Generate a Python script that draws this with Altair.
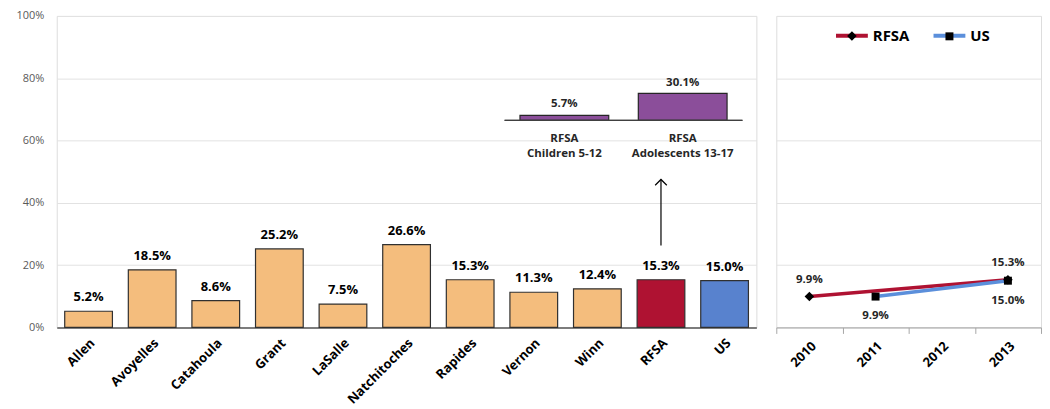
import altair as alt
import pandas as pd

FONT = "Open Sans"

# ---------------- data ----------------
parishes = ["Allen", "Avoyelles", "Catahoula", "Grant", "LaSalle", "Natchitoches",
            "Rapides", "Vernon", "Winn", "RFSA", "US"]
rates = [5.2, 18.5, 8.6, 25.2, 7.5, 26.6, 15.3, 11.3, 12.4, 15.3, 15.0]
groups = ["Parish"] * 9 + ["RFSA", "US"]

inset_labels = ["RFSA\nChildren 5-12", "RFSA\nAdolescents 13-17"]
inset_rates = [5.7, 30.1]

years = ["2010", "2011", "2012", "2013"]
rfsa_years = ["2010", "2013"]
rfsa_rates = [9.9, 15.3]
us_years = ["2011", "2013"]
us_rates = [9.9, 15.0]

y_ticks = [0, 20, 40, 60, 80, 100]
arrow_from, arrow_to = 26.3, 47.5  # annotation arrow (percent units)

# ---------------- styles ----------------
PEACH, CRIMSON, BLUE, PURPLE = "#F4BD7D", "#AF1232", "#5882CE", "#8B4E9A"
GRID = "#E2E2E2"

bars_df = pd.DataFrame({"name": parishes, "rate": rates, "group": groups})
bars_df["label"] = bars_df["rate"].map(lambda v: f"{v:.1f}%")

inset_df = pd.DataFrame({"label": inset_labels, "rate": inset_rates})
inset_df["txt"] = inset_df["rate"].map(lambda v: f"{v:.1f}%")

line_df = pd.DataFrame({
    "year": rfsa_years + us_years,
    "rate": rfsa_rates + us_rates,
    "series": ["RFSA"] * len(rfsa_years) + ["US"] * len(us_years),
})
line_df["marker"] = line_df["series"] + "_m"
line_df["txt"] = line_df["rate"].map(lambda v: f"{v:.1f}%")

# ---------------- left panel ----------------
x_main = alt.X("name:N", sort=parishes,
               scale=alt.Scale(paddingInner=0.25, paddingOuter=0.125),
               axis=alt.Axis(title=None, labelAngle=-45, labelFont=FONT, labelFontSize=13,
                             labelFontWeight="bold", labelColor="black", ticks=False,
                             domainColor="#595959", domainWidth=1.5, labelPadding=9))
y_main = alt.Y("rate:Q", scale=alt.Scale(domain=[0, 100]),
               axis=alt.Axis(title=None, values=y_ticks, labelExpr="datum.value + '%'",
                             grid=True, gridColor=GRID, domain=False, ticks=False,
                             labelFont=FONT, labelFontSize=11, labelColor="#595959",
                             labelPadding=13, minExtent=48, maxExtent=48))

bars = alt.Chart(bars_df).mark_bar(stroke="#303030", strokeWidth=1.2).encode(
    x=x_main, y=y_main,
    fill=alt.Fill("group:N", scale=alt.Scale(domain=["Parish", "RFSA", "US"],
                                             range=[PEACH, CRIMSON, BLUE]), legend=None),
)
bar_labels = alt.Chart(bars_df).mark_text(
    font=FONT, fontSize=13, fontWeight="bold", color="black", baseline="bottom", dy=-7
).encode(x=alt.X("name:N", sort=parishes), y="rate:Q", text="label:N")

arrow_df = pd.DataFrame({"name": ["RFSA"], "a": [arrow_from], "b": [arrow_to]})
arrow_line = alt.Chart(arrow_df).mark_rule(color="black", strokeWidth=1.2).encode(
    x=alt.X("name:N", sort=parishes), y="a:Q", y2="b:Q")
arrow_head = alt.Chart(arrow_df).mark_point(
    shape="M-1,1L0,0L1,1", filled=False, stroke="black", strokeWidth=1.2, size=137, opacity=1
).encode(x=alt.X("name:N", sort=parishes), y="b:Q")

main = alt.layer(bars, bar_labels, arrow_line, arrow_head)

x_in = alt.X("label:N", sort=inset_labels,
             scale=alt.Scale(range=[450, 689], paddingInner=0.25, paddingOuter=0.13), axis=None)
y_in = alt.Y("rate:Q", scale=alt.Scale(domain=[0, 100], range=[105, 15]), axis=None)

inset_bars = alt.Chart(inset_df).mark_bar(fill=PURPLE, stroke="#262626", strokeWidth=1.2).encode(
    x=x_in, y=y_in)
inset_base = alt.Chart(inset_df).mark_rule(color="#404040", strokeWidth=1.2).encode(
    x=alt.value(450), x2=alt.value(689), y=alt.YDatum(0))
inset_vals = alt.Chart(inset_df).mark_text(
    font=FONT, fontSize=11.5, fontWeight="bold", color="#262626", baseline="bottom", dy=-6
).encode(x=alt.X("label:N", sort=inset_labels), y="rate:Q", text="txt:N")
inset_cats = alt.Chart(inset_df).mark_text(
    font=FONT, fontSize=11.5, fontWeight="bold", color="#262626", baseline="top", dy=13,
    lineBreak="\n", lineHeight=15
).encode(x=alt.X("label:N", sort=inset_labels), y=alt.YDatum(0), text="label:N")

inset = alt.layer(inset_bars, inset_base, inset_vals, inset_cats)

left = alt.layer(main, inset).resolve_scale(x="independent", y="independent").properties(
    width=703, height=313)

# ---------------- right panel ----------------
diamond = "M-1,0M1,0M0,-0.3L0.3,0L0,0.3L-0.3,0Z"
square = "M-1,0M1,0M-0.25,-0.25L0.25,-0.25L0.25,0.25L-0.25,0.25Z"

x_r = alt.X("year:N", scale=alt.Scale(type="band", domain=years, paddingInner=0, paddingOuter=0),
            axis=alt.Axis(title=None, labelAngle=-45, labelFont=FONT, labelFontSize=13,
                          labelFontWeight="bold", labelColor="black", tickBand="extent",
                          tickColor="#A6A6A6", tickSize=6, domainColor="#A6A6A6",
                          labelPadding=6, grid=False))
y_r = alt.Y("rate:Q", scale=alt.Scale(domain=[0, 100]),
            axis=alt.Axis(title=None, values=y_ticks, grid=True, gridColor=GRID, labels=False,
                          ticks=False, domain=False))

leg_common = dict(orient="none", legendX=58, legendY=2, direction="horizontal", title=None,
                  symbolSize=1024, symbolStrokeWidth=4, labelFont=FONT, labelFontSize=15,
                  labelFontWeight="bold", labelColor="black", labelOffset=3, columnPadding=16,
                  padding=0)

lines = alt.Chart(line_df).mark_line(strokeWidth=3.5).encode(
    x=x_r, y=y_r,
    stroke=alt.Stroke("series:N", scale=alt.Scale(domain=["RFSA", "US"], range=[CRIMSON, "#5B8FDB"]),
                      legend=alt.Legend(symbolType="M-1,0L1,0", **leg_common)),
)
points = alt.Chart(line_df).mark_point(filled=True, color="black", size=1024, opacity=1).encode(
    x=x_r, y=y_r,
    shape=alt.Shape("marker:N", scale=alt.Scale(domain=["RFSA_m", "US_m"], range=[diamond, square]),
                    legend=alt.Legend(symbolFillColor="black", symbolStrokeColor="transparent",
                                      labelOpacity=0,
                                      labelExpr="split(datum.label, '_')[0]", **leg_common)),
)
rfsa_txt = alt.Chart(line_df).transform_filter("datum.series == 'RFSA'").mark_text(
    font=FONT, fontSize=11.5, fontWeight="bold", color="#262626", dy=-17
).encode(x=x_r, y=y_r, text="txt:N")
us_txt = alt.Chart(line_df).transform_filter("datum.series == 'US'").mark_text(
    font=FONT, fontSize=11.5, fontWeight="bold", color="#262626", dy=20
).encode(x=x_r, y=y_r, text="txt:N")

right = alt.layer(lines, points, rfsa_txt, us_txt).properties(width=266, height=313)

chart = alt.hconcat(left, right, spacing=18).resolve_scale(
    fill="independent", stroke="independent", shape="independent"
).properties(padding={"left": 0, "top": 0, "right": 0, "bottom": 0}).configure_view(
    stroke=None).configure(background="white")

chart.save("out.html", embed_options={"renderer": "svg", "actions": False})
